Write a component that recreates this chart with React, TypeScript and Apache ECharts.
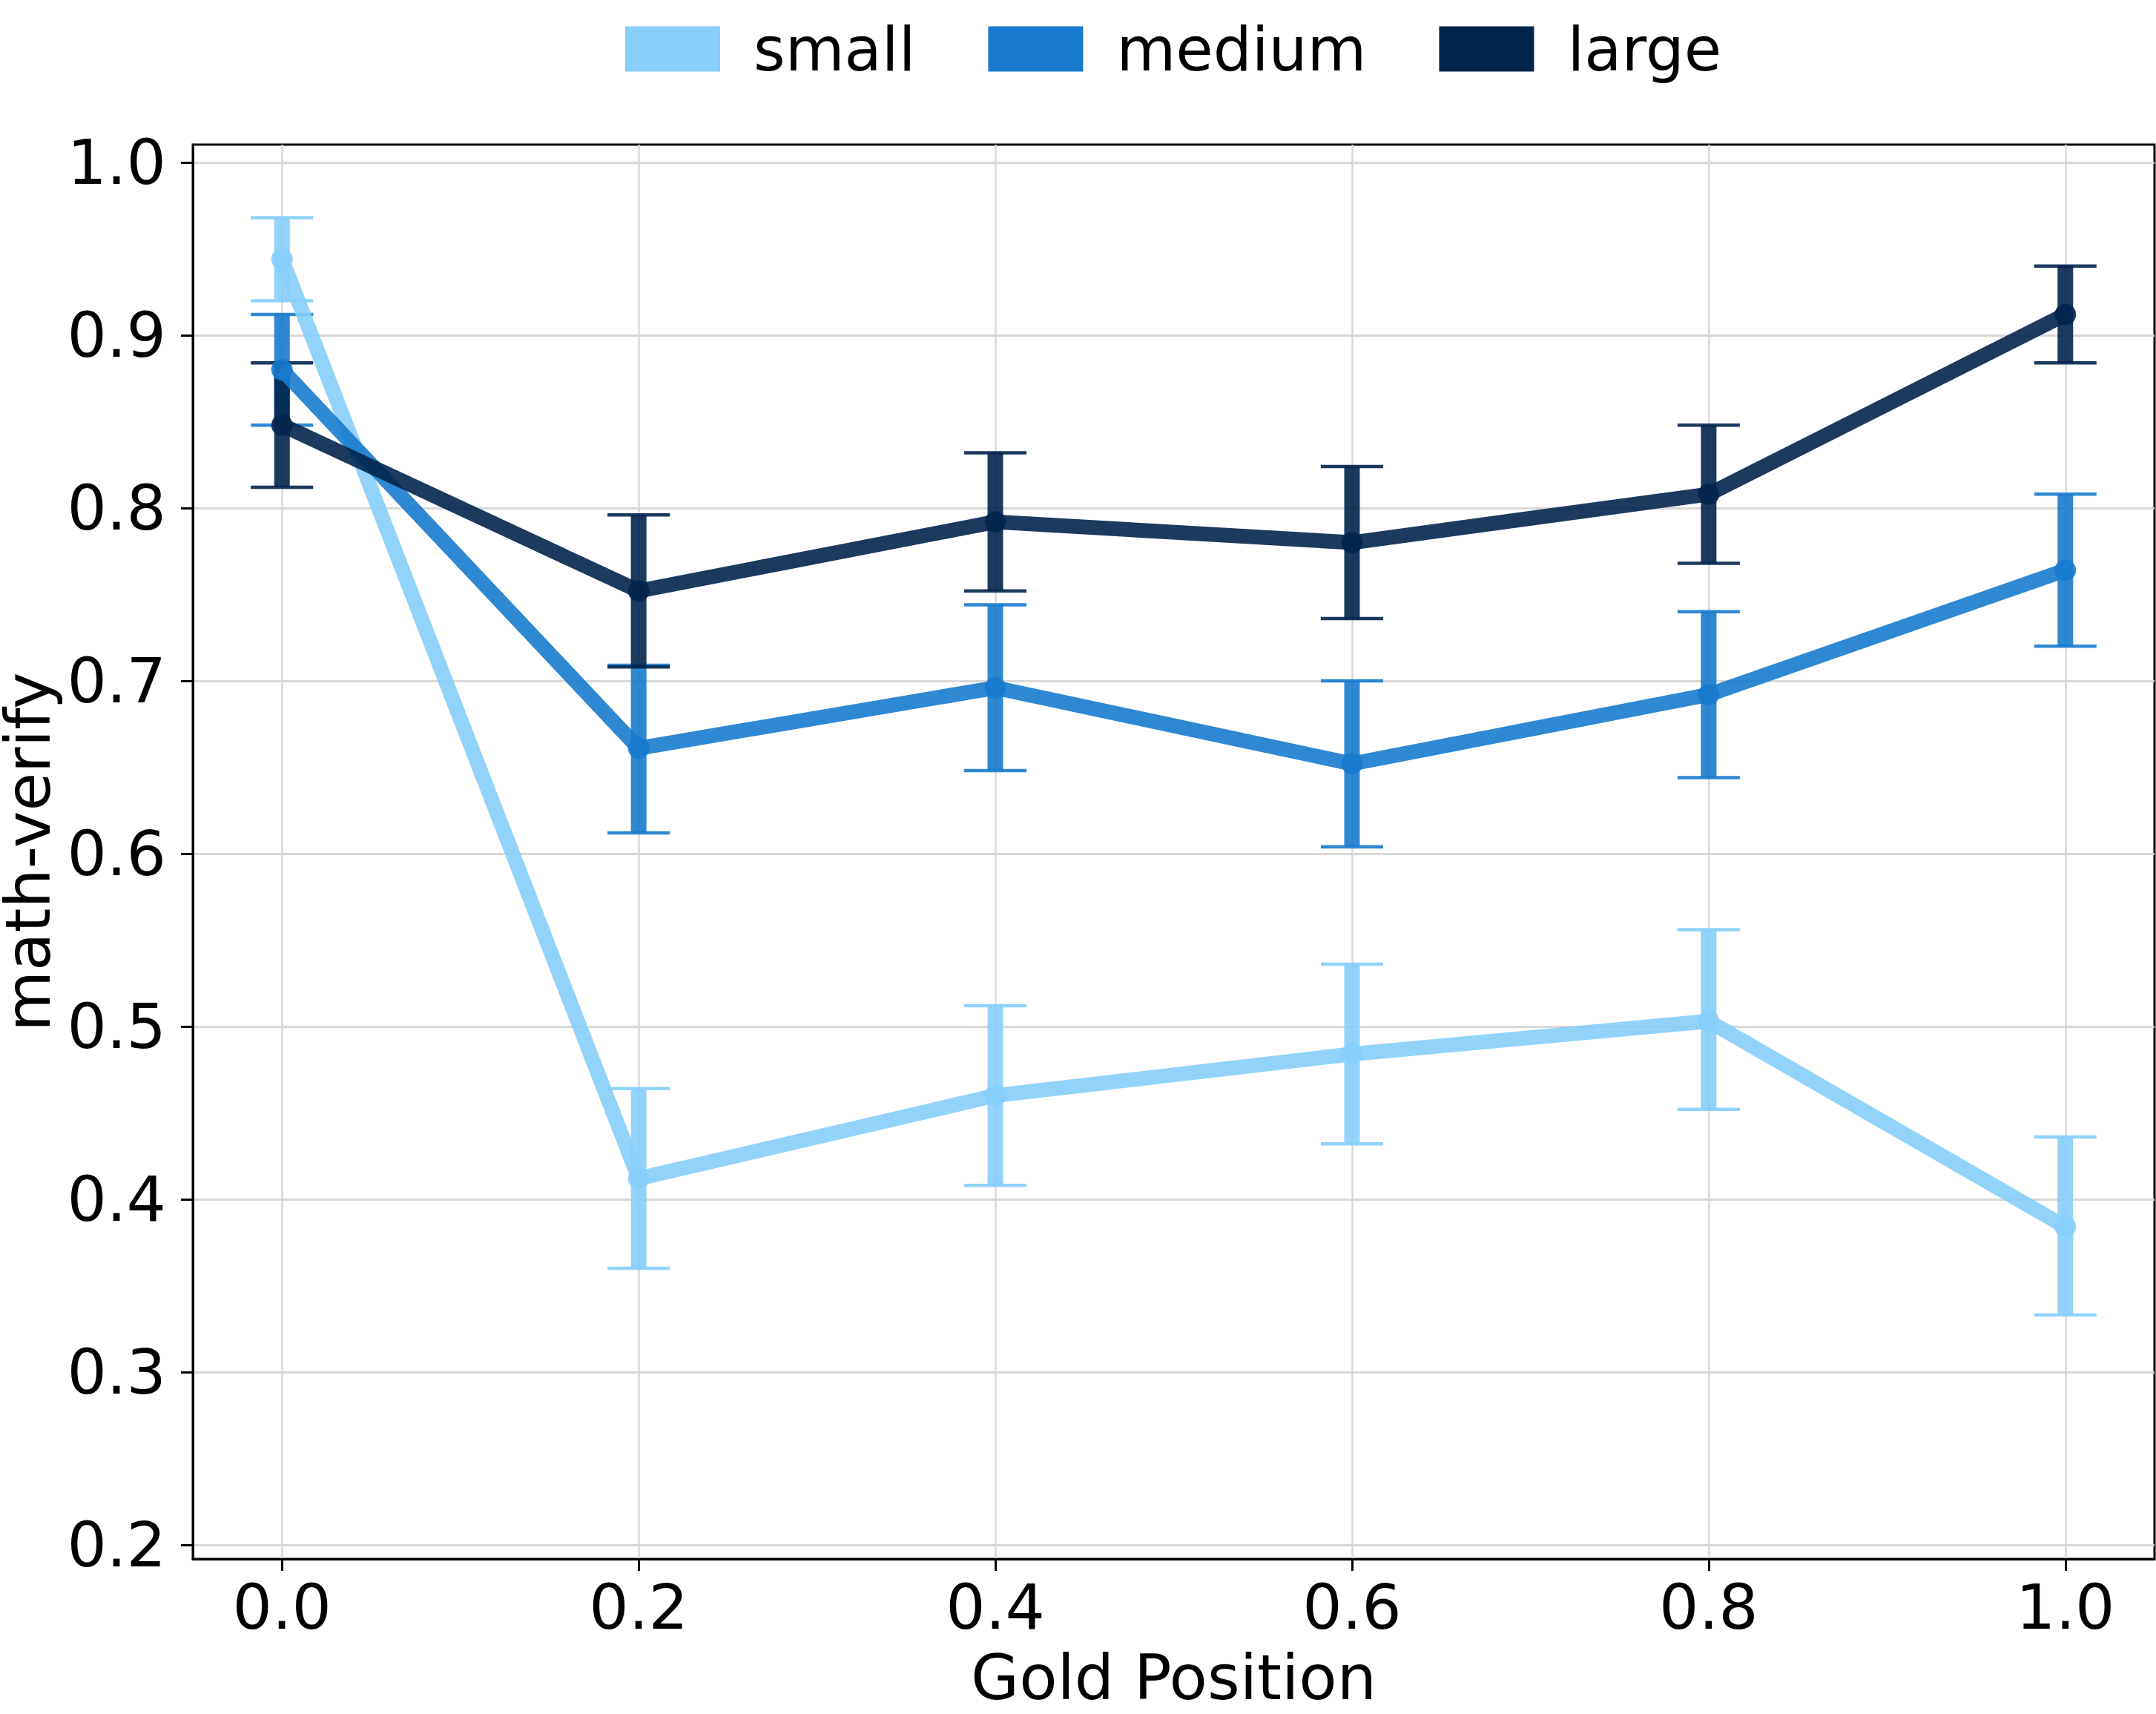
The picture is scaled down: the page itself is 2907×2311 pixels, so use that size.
import React, { useEffect, useRef } from "react";
import * as echarts from "echarts";

const positions = [0, 0.2, 0.4, 0.6, 0.8, 1.0];
const xTicks = [0, 0.2, 0.4, 0.6, 0.8, 1.0];
const yTicks = [0.2, 0.3, 0.4, 0.5, 0.6, 0.7, 0.8, 0.9, 1.0];

const seriesNames = ["small", "medium", "large"];
const seriesColors = ["#87CEFA", "#187BCD", "#03254C"];

const smallMean = [0.944, 0.412, 0.46, 0.484, 0.503, 0.384];
const smallLow = [0.92, 0.36, 0.408, 0.432, 0.452, 0.333];
const smallHigh = [0.968, 0.464, 0.512, 0.536, 0.556, 0.436];

const mediumMean = [0.88, 0.661, 0.696, 0.652, 0.692, 0.764];
const mediumLow = [0.848, 0.612, 0.648, 0.604, 0.644, 0.72];
const mediumHigh = [0.912, 0.709, 0.744, 0.7, 0.74, 0.808];

const largeMean = [0.848, 0.752, 0.792, 0.78, 0.808, 0.912];
const largeLow = [0.812, 0.708, 0.752, 0.736, 0.768, 0.884];
const largeHigh = [0.884, 0.796, 0.832, 0.824, 0.848, 0.94];

const means = [smallMean, mediumMean, largeMean];
const lows = [smallLow, mediumLow, largeLow];
const highs = [smallHigh, mediumHigh, largeHigh];

const FONT = "DejaVu Sans";
const FS = 84;
const LEGEND_FS = 82;

export default function App() {
  const ref = useRef<HTMLDivElement>(null);
  useEffect(() => {
    if (!ref.current) return;
    const chart = echarts.init(ref.current, null, { renderer: "svg" });
    const series: any[] = [];
    seriesNames.forEach((name, i) => {
      const color = seriesColors[i];
      series.push({
        name: name + "-err",
        type: "custom",
        data: positions.map((x, j) => [x, lows[i][j], highs[i][j]]),
        encode: { x: 0, y: [1, 2] },
        silent: true,
        renderItem: (params: any, api: any) => {
          const x = api.value(0);
          const lo = api.coord([x, api.value(1)]);
          const hi = api.coord([x, api.value(2)]);
          const half = 42;
          return {
            type: "group",
            children: [
              {
                type: "line",
                shape: { x1: lo[0], y1: lo[1], x2: hi[0], y2: hi[1] },
                style: { stroke: color, lineWidth: 21, opacity: 0.9 },
              },
              {
                type: "line",
                shape: { x1: hi[0] - half, y1: hi[1], x2: hi[0] + half, y2: hi[1] },
                style: { stroke: color, lineWidth: 4.5, opacity: 0.9 },
              },
              {
                type: "line",
                shape: { x1: lo[0] - half, y1: lo[1], x2: lo[0] + half, y2: lo[1] },
                style: { stroke: color, lineWidth: 4.5, opacity: 0.9 },
              },
            ],
          };
        },
      });
      series.push({
        name,
        type: "line",
        data: positions.map((x, j) => [x, means[i][j]]),
        symbol: "circle",
        symbolSize: 29,
        showSymbol: true,
        lineStyle: { color, width: 20, opacity: 0.9 },
        itemStyle: { color, opacity: 0.9, borderWidth: 0 },
        emphasis: { disabled: true },
        silent: true,
      });
    });

    chart.setOption({
      animation: false,
      backgroundColor: "#ffffff",
      textStyle: { fontFamily: FONT },
      legend: {
        data: seriesNames.map((n, i) => ({
          name: n,
          icon: "rect",
          itemStyle: { color: seriesColors[i], opacity: 1 },
        })),
        left: 843,
        top: 25,
        padding: 0,
        itemWidth: 128,
        itemHeight: 61,
        itemGap: 98,
        selectedMode: false,
        textStyle: {
          fontFamily: FONT,
          fontSize: LEGEND_FS,
          color: "#000",
          padding: [0, 0, 0, 40],
        },
      },
      grid: {
        left: 260,
        right: 2,
        top: 195,
        bottom: 209,
        show: true,
        borderColor: "#000",
        borderWidth: 3,
        backgroundColor: "transparent",
        containLabel: false,
        outerBoundsMode: "none",
      },
      xAxis: {
        type: "value",
        min: -0.05,
        max: 1.05,
        name: "Gold Position",
        nameLocation: "middle",
        nameGap: 118,
        nameTextStyle: { fontFamily: FONT, fontSize: FS, color: "#000" },
        axisLine: { show: true, onZero: false, lineStyle: { color: "#000", width: 3 } },
        axisTick: {
          show: true,
          inside: false,
          length: 16,
          customValues: xTicks,
          lineStyle: { color: "#000", width: 3 },
        },
        axisLabel: {
          show: true,
          margin: 23,
          customValues: xTicks,
          formatter: (v: number) => v.toFixed(1),
          fontFamily: FONT,
          fontSize: FS,
          color: "#000",
        },
        splitLine: { show: true, lineStyle: { color: "#d8d8d8", width: 2.5 } },
      },
      yAxis: {
        type: "value",
        min: 0.1918,
        max: 1.0103,
        name: "math-verify",
        nameLocation: "middle",
        nameRotate: 90,
        nameGap: 167,
        nameTextStyle: { fontFamily: FONT, fontSize: FS, color: "#000" },
        axisLine: { show: true, onZero: false, lineStyle: { color: "#000", width: 3 } },
        axisTick: {
          show: true,
          inside: false,
          length: 16,
          customValues: yTicks,
          lineStyle: { color: "#000", width: 3 },
        },
        axisLabel: {
          show: true,
          margin: 36,
          customValues: yTicks,
          formatter: (v: number) => v.toFixed(1),
          fontFamily: FONT,
          fontSize: FS,
          color: "#000",
        },
        splitLine: { show: true, lineStyle: { color: "#d8d8d8", width: 3 } },
      },
      series,
    });
    return () => chart.dispose();
  }, []);
  return (
    <div
      ref={ref}
      style={{ position: "fixed", left: 0, top: 0, width: 2907, height: 2311, background: "#fff" }}
    />
  );
}
